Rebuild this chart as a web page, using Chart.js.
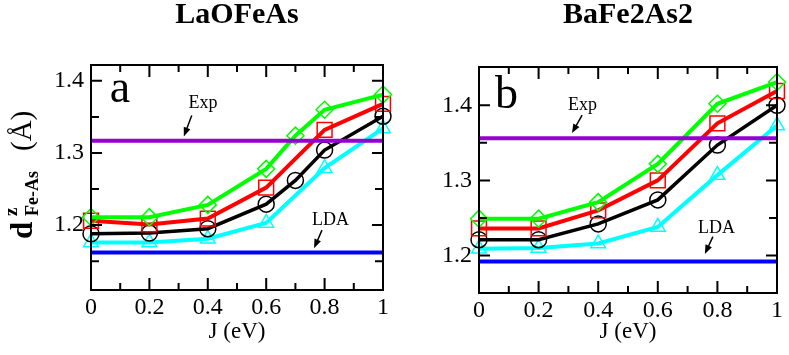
<!DOCTYPE html>
<html>
<head>
<meta charset="utf-8">
<script src="https://cdn.jsdelivr.net/npm/chart.js"></script>
<style>
  body { margin: 0; background: #fff; }
  #chartA { position: absolute; left: 0; top: 0; }
  #chartB { position: absolute; left: 395px; top: 0; }
</style>
</head>
<body>
<canvas id="chartA" width="395" height="355"></canvas>
<canvas id="chartB" width="394" height="355"></canvas>
<script>
// J values (eV)
var jFull = [0, 0.2, 0.4, 0.6, 0.7, 0.8, 1];
var jMain = [0, 0.2, 0.4, 0.6, 0.8, 1];
var xTicks = [0, 0.2, 0.4, 0.6, 0.8, 1];
var xMinor = [0.1, 0.3, 0.5, 0.7, 0.9];
var yTicks = [1.2, 1.3, 1.4];
var yMinor = [1.15, 1.25, 1.35];

// LaOFeAs
var laBlack = [1.188, 1.189, 1.195, 1.229, 1.262, 1.304, 1.351];
var laRed = [1.206, 1.201, 1.209, 1.252, 1.332, 1.368];
var laGreen = [1.211, 1.211, 1.228, 1.278, 1.324, 1.360, 1.381];
var laCyan = [1.176, 1.176, 1.181, 1.203, 1.279, 1.334];
var laExp = 1.317;
var laLda = 1.162;

// BaFe2As2
var baBlack = [1.221, 1.221, 1.242, 1.274, 1.347, 1.400];
var baRed = [1.236, 1.236, 1.260, 1.300, 1.376, 1.419];
var baGreen = [1.249, 1.249, 1.271, 1.322, 1.402, 1.431];
var baCyan = [1.209, 1.210, 1.216, 1.238, 1.307, 1.373];
var baExp = 1.356;
var baLda = 1.192;

var SERIF = 'Liberation Serif';
Chart.defaults.font.family = SERIF;
Chart.defaults.color = '#000';

function series(xs, ys, color, style, radius, width, order) {
    return {
        data: xs.map(function (x, i) { return { x: x, y: ys[i] }; }),
        borderColor: color,
        backgroundColor: 'transparent',
        pointBorderColor: color,
        pointBackgroundColor: 'transparent',
        pointStyle: style,
        pointRadius: radius,
        pointBorderWidth: 1.5,
        borderWidth: width,
        tension: 0,
        clip: false,
        order: order
    };
}

function hline(y, color) {
    return {
        data: [{ x: xTicks[0], y: y }, { x: xTicks[xTicks.length - 1], y: y }],
        borderColor: color,
        borderWidth: 4,
        pointRadius: 0,
        clip: false,
        order: 0
    };
}

function arrow(ctx, x1, y1, x2, y2) {
    var ang = Math.atan2(y2 - y1, x2 - x1);
    ctx.beginPath();
    ctx.moveTo(x1, y1);
    ctx.lineTo(x2 - 6 * Math.cos(ang), y2 - 6 * Math.sin(ang));
    ctx.stroke();
    ctx.beginPath();
    ctx.moveTo(x2, y2);
    ctx.lineTo(x2 - 9 * Math.cos(ang) + 3.5 * Math.sin(ang), y2 - 9 * Math.sin(ang) - 3.5 * Math.cos(ang));
    ctx.lineTo(x2 - 9 * Math.cos(ang) - 3.5 * Math.sin(ang), y2 - 9 * Math.sin(ang) + 3.5 * Math.cos(ang));
    ctx.closePath();
    ctx.fill();
}

// frame, inward ticks, tick labels, panel title and notes
var framePlugin = {
    id: 'frame',
    afterDatasetsDraw: function (chart, args, opts) {
        var ctx = chart.ctx, a = chart.chartArea;
        var xs = chart.scales.x, ys = chart.scales.y;
        ctx.save();
        ctx.strokeStyle = '#000';
        ctx.fillStyle = '#000';
        ctx.lineWidth = 2;
        ctx.strokeRect(a.left, a.top, a.right - a.left, a.bottom - a.top);

        ctx.beginPath();
        xTicks.concat(xMinor).forEach(function (v, i) {
            var len = i < xTicks.length ? 12 : 7;
            var px = xs.getPixelForValue(v);
            ctx.moveTo(px, a.bottom); ctx.lineTo(px, a.bottom - len);
            ctx.moveTo(px, a.top); ctx.lineTo(px, a.top + len);
        });
        yTicks.concat(yMinor).forEach(function (v, i) {
            var len = i < yTicks.length ? 11 : 8;
            var py = ys.getPixelForValue(v);
            if (py < a.top || py > a.bottom) return;
            ctx.moveTo(a.left, py); ctx.lineTo(a.left + len, py);
            ctx.moveTo(a.right, py); ctx.lineTo(a.right - len, py);
        });
        ctx.stroke();

        // tick labels and x axis title
        ctx.textBaseline = 'middle';
        ctx.font = '24px ' + SERIF;
        ctx.textAlign = 'center';
        xTicks.forEach(function (v) {
            ctx.fillText(String(v), xs.getPixelForValue(v), a.bottom + 17.4);
        });
        ctx.textAlign = 'right';
        yTicks.forEach(function (v) {
            ctx.fillText(v.toFixed(1), a.left - 7, ys.getPixelForValue(v));
        });
        ctx.font = '23px ' + SERIF;
        ctx.textAlign = 'center';
        ctx.fillText('J (eV)', (a.left + a.right) / 2, chart.height - 22.8);

        // panel title
        ctx.textBaseline = 'alphabetic';
        ctx.font = 'bold 30px ' + SERIF;
        ctx.fillText(opts.heading, (a.left + a.right) / 2, 23);

        // letter and Exp / LDA notes
        ctx.textAlign = 'left';
        ctx.font = '46px ' + SERIF;
        ctx.fillText(opts.letter.text, xs.getPixelForValue(opts.letter.x), ys.getPixelForValue(opts.letter.y));
        ctx.font = '18px ' + SERIF;
        ctx.lineWidth = 1.5;
        opts.notes.forEach(function (n) {
            ctx.fillText(n.text, xs.getPixelForValue(n.x), ys.getPixelForValue(n.y));
            arrow(ctx, xs.getPixelForValue(n.ax1), ys.getPixelForValue(n.ay1),
                xs.getPixelForValue(n.ax2), ys.getPixelForValue(n.ay2));
        });

        // y axis title d^z_{Fe-As} (Å)
        if (opts.yTitle) {
            ctx.save();
            ctx.rotate(-Math.PI / 2);
            ctx.font = 'bold 31px ' + SERIF;
            ctx.fillText('d', -239, 32);
            ctx.font = 'bold 19px ' + SERIF;
            ctx.fillText('z', -216, 17);
            ctx.font = 'bold 18px ' + SERIF;
            ctx.fillText('Fe-As', -216, 38);
            ctx.font = '29px ' + SERIF;
            ctx.fillText('(Å)', -151, 31);
            ctx.restore();
        }
        ctx.restore();
    }
};

function makeChart(id, sets, yMin, yMax, pad, yWidth, xHeight, frameOpts) {
    return new Chart(document.getElementById(id), {
        type: 'line',
        data: { datasets: sets },
        options: {
            responsive: false,
            animation: false,
            layout: { padding: pad },
            plugins: { legend: { display: false }, tooltip: { enabled: false }, frame: frameOpts },
            scales: {
                x: {
                    type: 'linear', min: 0, max: 1,
                    afterBuildTicks: function (s) { s.ticks = xTicks.map(function (v) { return { value: v }; }); },
                    afterFit: function (s) { s.height = xHeight; s.paddingLeft = 0; s.paddingRight = 0; },
                    grid: { display: false, drawTicks: false, tickLength: 0 }, border: { display: false },
                    ticks: { display: false }
                },
                y: {
                    type: 'linear', min: yMin, max: yMax,
                    afterBuildTicks: function (s) { s.ticks = yTicks.map(function (v) { return { value: v }; }); },
                    afterFit: function (s) { s.width = yWidth; },
                    grid: { display: false, drawTicks: false, tickLength: 0 }, border: { display: false },
                    ticks: { display: false }
                }
            }
        },
        plugins: [framePlugin]
    });
}

makeChart('chartA', [
    hline(laExp, '#9400d3'),
    hline(laLda, '#0000ff'),
    series(jFull, laGreen, '#00ff00', 'rectRot', 8.5, 4, 1),
    series(jMain, laRed, '#ff0000', 'rect', 10.5, 4, 2),
    series(jFull, laBlack, '#000000', 'circle', 8, 3.5, 3),
    series(jMain, laCyan, '#00ffff', 'triangle', 8.5, 4, 4)
], 1.11, 1.422, { left: 0, right: 8, top: 65, bottom: 0 }, 91, 65, {
    heading: 'LaOFeAs',
    yTitle: true,
    letter: { text: 'a', x: 0.064, y: 1.371 },
    notes: [
        { text: 'Exp', x: 0.334, y: 1.362, ax1: 0.345, ay1: 1.352, ax2: 0.318, ay2: 1.323 },
        { text: 'LDA', x: 0.757, y: 1.200, ax1: 0.791, ay1: 1.193, ax2: 0.764, ay2: 1.168 }
    ]
});

makeChart('chartB', [
    hline(baExp, '#9400d3'),
    hline(baLda, '#0000ff'),
    series(jMain, baGreen, '#00ff00', 'rectRot', 8.5, 4, 1),
    series(jMain, baRed, '#ff0000', 'rect', 10.5, 4, 2),
    series(jMain, baBlack, '#000000', 'circle', 8, 3.5, 3),
    series(jMain, baCyan, '#00ffff', 'triangle', 8.5, 4, 4)
], 1.15, 1.451, { left: 0, right: 12, top: 67, bottom: 0 }, 84, 62, {
    heading: 'BaFe2As2',
    yTitle: false,
    letter: { text: 'b', x: 0.054, y: 1.396 },
    notes: [
        { text: 'Exp', x: 0.299, y: 1.394, ax1: 0.346, ay1: 1.387, ax2: 0.312, ay2: 1.363 },
        { text: 'LDA', x: 0.735, y: 1.230, ax1: 0.785, ay1: 1.225, ax2: 0.758, ay2: 1.202 }
    ]
});
</script>
</body>
</html>
